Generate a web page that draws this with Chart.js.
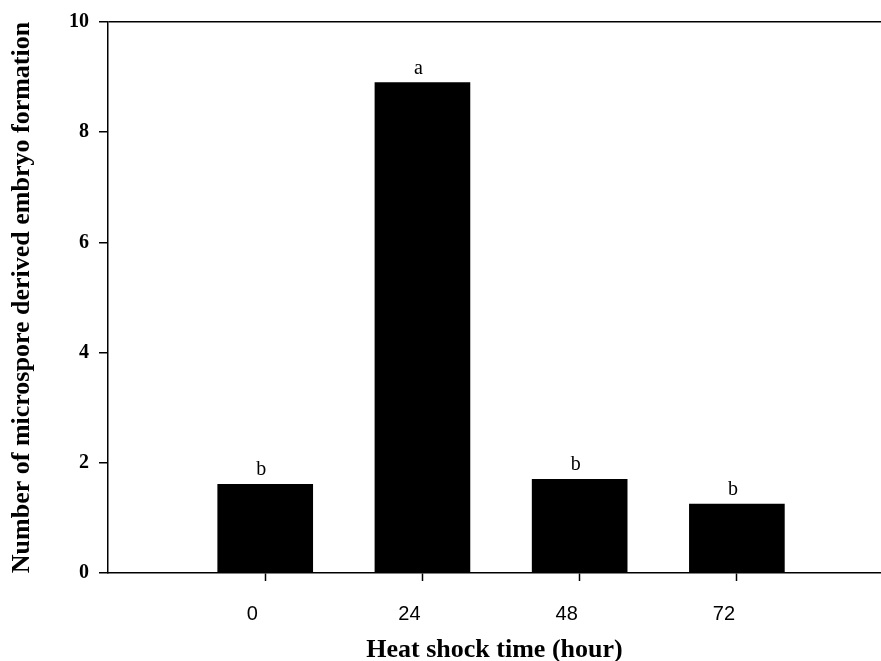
<!DOCTYPE html>
<html>
<head>
<meta charset="utf-8">
<script src="https://cdn.jsdelivr.net/npm/chart.js@4"></script>
<style>
  html, body { margin:0; padding:0; background:#fff; overflow:hidden; }
</style>
</head>
<body>
<canvas id="c" width="881" height="661"></canvas>
<script>
// ── data ────────────────────────────────────────────────────────
const hours        = [0, 24, 48, 72];
const hourLabels   = ["0", "24", "48", "72"];
const embryoCounts = [1.61, 8.9, 1.70, 1.25];
const groupLetters = ["b", "a", "b", "b"];
const yTicks       = [0, 2, 4, 6, 8, 10];

const SERIF = '"Liberation Serif", "Times New Roman", serif';
const SANS  = '"Liberation Sans", Arial, sans-serif';

// letters above each bar
const letterPlugin = {
  id: "letters",
  afterDatasetsDraw(chart) {
    const { ctx } = chart;
    const bars = chart.getDatasetMeta(0).data;
    ctx.save();
    ctx.font = "20px " + SERIF;
    ctx.fillStyle = "#000";
    ctx.textAlign = "center";
    ctx.textBaseline = "alphabetic";
    bars.forEach((b, i) => ctx.fillText(groupLetters[i], b.x - 4, b.y - 9));
    ctx.restore();
  },
};

new Chart(document.getElementById("c").getContext("2d"), {
  type: "bar",
  data: {
    datasets: [{
      data: hours.map((h, i) => ({ x: h, y: embryoCounts[i] })),
      backgroundColor: "#000",
      borderWidth: 0,
      barThickness: 95,
    }],
  },
  options: {
    responsive: false,
    animation: false,
    layout: { padding: { top: 22, right: 0, bottom: 0, left: 0 } },
    plugins: { legend: { display: false }, tooltip: { enabled: false } },
    scales: {
      x: {
        type: "linear", min: -24, max: 94, offset: false,
        afterBuildTicks: s => { s.ticks = hours.map(v => ({ value: v })); },
        afterFit: s => { s.height = 88; },
        border: { color: "#000", width: 1.5 },
        grid: { offset: false, drawOnChartArea: false, tickLength: 8, tickColor: "#000", tickWidth: 1.5 },
        ticks: {
          font: { family: SANS, size: 20 }, color: "#000",
          padding: 21, labelOffset: -13, maxRotation: 0,
          callback: v => hourLabels[hours.indexOf(v)] ?? "",
        },
        title: {
          display: true, text: "Heat shock time (hour)", color: "#000",
          font: { family: SERIF, size: 26, weight: "bold", lineHeight: 0.8 },
          padding: { top: 0, bottom: 0 },
        },
      },
      y: {
        min: 0, max: 10,
        afterBuildTicks: s => { s.ticks = yTicks.map(v => ({ value: v })); },
        afterFit: s => { s.width = 108; },
        border: { color: "#000", width: 1.5 },
        grid: {
          drawOnChartArea: true, tickLength: 9, tickWidth: 1.5, tickColor: "#000",
          lineWidth: 1.5,
          color: c => (c.tick && c.tick.value === 10) ? "#000" : "rgba(0,0,0,0)",
        },
        ticks: {
          font: { family: SERIF, size: 20, weight: "bold" }, color: "#000", padding: 10,
        },
        title: {
          display: true, text: "Number of microspore derived embryo formation", color: "#000",
          font: { family: SERIF, size: 26, weight: "bold", lineHeight: 0.8 },
          padding: { top: 12, bottom: 0 },
        },
      },
    },
  },
  plugins: [letterPlugin],
});
</script>
</body>
</html>
